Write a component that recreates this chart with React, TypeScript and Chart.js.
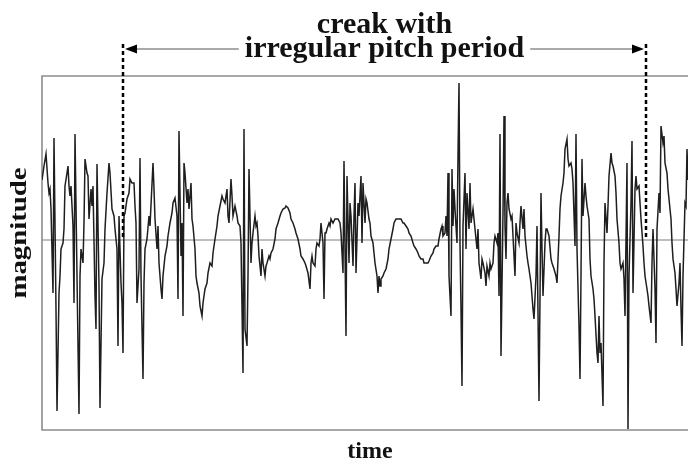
import React, { useEffect, useRef } from "react";
import { Chart, registerables } from "chart.js";

Chart.register(...registerables);

const time = [
  0, 2, 4, 6, 7, 8, 9, 11, 12, 14, 15, 17, 18, 19, 21, 22, 23, 25, 26, 27, 28, 29, 31, 32, 33, 35, 37, 38, 39, 41,
  42, 43, 45, 46, 47, 49, 50, 51, 53, 54, 55, 57, 58, 60, 62, 63, 65, 67, 68, 70, 72, 73, 75, 76, 77, 79, 80, 81, 82, 83,
  85, 87, 88, 90, 92, 93, 94, 95, 97, 98, 99, 101, 102, 103, 105, 107, 108, 111, 112, 113, 115, 116, 117, 119, 120, 121, 123, 125, 126, 128,
  130, 131, 133, 135, 136, 137, 139, 140, 141, 142, 143, 145, 146, 147, 149, 150, 151, 153, 154, 155, 157, 158, 160, 161, 163, 165, 166, 168, 170, 171,
  173, 175, 176, 178, 180, 181, 183, 185, 186, 187, 189, 190, 191, 193, 195, 196, 198, 199, 201, 202, 203, 205, 206, 207, 209, 210, 211, 213, 214, 215,
  216, 217, 219, 220, 221, 223, 224, 225, 227, 228, 229, 231, 233, 234, 236, 238, 239, 241, 243, 244, 246, 248, 249, 251, 253, 254, 256, 258, 259, 261,
  263, 264, 266, 268, 269, 270, 271, 273, 274, 275, 277, 278, 279, 281, 282, 283, 284, 285, 287, 288, 289, 291, 293, 294, 296, 298, 299, 301, 302, 303,
  304, 305, 307, 308, 309, 311, 312, 313, 314, 316, 317, 319, 320, 321, 323, 324, 325, 327, 328, 329, 331, 332, 333, 335, 336, 337, 338, 339, 341, 342,
  344, 346, 347, 349, 351, 352, 354, 356, 357, 359, 361, 362, 364, 366, 367, 369, 371, 372, 374, 376, 377, 379, 381, 382, 384, 386, 387, 389, 391, 392,
  394, 396, 397, 399, 400, 401, 403, 404, 405, 406, 407, 409, 410, 411, 412, 413, 415, 416, 417, 418, 419, 420, 421, 423, 424, 425, 427, 428, 429, 431,
  432, 433, 435, 436, 437, 439, 440, 441, 443, 444, 445, 447, 448, 449, 451, 452, 453, 455, 456, 457, 458, 459, 461, 462, 463, 464, 465, 466, 467, 469,
  470, 471, 473, 474, 475, 477, 478, 479, 481, 482, 483, 485, 486, 487, 489, 490, 491, 492, 494, 495, 497, 499, 500, 501, 503, 504, 505, 507, 509, 510,
  512, 514, 515, 517, 518, 519, 521, 522, 523, 525, 526, 527, 529, 530, 531, 533, 534, 535, 537, 538, 539, 540, 541, 543, 544, 545, 547, 548, 549, 551,
  552, 553, 555, 556, 557, 558, 559, 561, 562, 563, 565, 566, 567, 569, 570, 571, 573, 574, 575, 577, 578, 579, 581, 582, 583, 585, 586, 587, 589, 590,
  591, 593, 594, 595, 597, 598, 599, 601, 602, 603, 605, 606, 607, 609, 610, 611, 613, 614, 615, 617, 618, 619, 621, 622, 623, 625, 626, 627, 629, 630,
  631, 633, 634, 635, 637, 638, 639, 640, 641, 643, 644, 645, 646,
];

const magnitude = [
  60, 74, 86, 57, 47, 51, 31, -53, 102, -69, -171, -53, -36, -9, -3, 11, 54, 67, 74, 54, 44, 54, 14, -63, 106, -36, -174, -36, -9, -23,
  17, 81, 67, 64, 21, 51, 34, 54, -56, -89, 76, -46, -168, -39, -23, 11, 47, 77, 67, 31, 24, 11, -9, -106, 24, -43, -63, -113, 24, 27,
  41, 47, 61, 57, 57, 34, 17, -63, -29, 82, -36, -139, -43, -9, 1, 24, 14, 77, 51, 21, -9, 14, -23, -49, -59, -36, -16, -6, 4, 17,
  27, 37, 42, 24, -59, 109, -16, 17, -76, 77, 67, 37, 51, 31, 57, 21, 14, -9, -36, -43, -53, -66, -76, -63, -49, -43, -33, -23, -26, -13,
  1, 14, 24, 34, 44, 41, 37, 51, 24, 17, 61, 44, 24, 34, 24, 17, 14, -3, -133, 111, -89, -106, -36, 71, -23, -3, 7, 24, 14, 17,
  4, -16, -36, -9, -23, -36, -26, -23, -16, -19, -13, -9, 1, 11, 17, 24, 27, 31, 32, 34, 32, 27, 21, 17, 11, 7, 1, -9, -16, -19,
  -23, -26, -33, -49, -23, -16, -23, -26, -9, -3, -6, 1, 17, -3, -59, 7, 7, 11, 17, 14, 21, 17, 21, 21, 21, 17, 7, -33, 79, -9,
  -96, 64, -23, 37, 24, -26, 24, 57, -33, 37, 24, 64, -3, 57, 17, 41, 37, 21, 17, 4, -3, -13, -23, -36, -53, -36, -46, -39, -36, -33,
  -29, -19, -9, 1, 11, 17, 21, 21, 21, 21, 17, 17, 14, 11, 7, 4, -3, -6, -9, -13, -16, -19, -19, -23, -23, -23, -21, -16, -13, -9,
  -6, -6, 1, 11, 14, 4, 7, 24, 4, 67, -36, -76, 71, 14, 51, 31, -3, 84, 157, -3, -69, -146, 14, 67, -9, 47, 11, 57, 17, 31,
  31, 11, -9, 11, -23, -39, -19, -23, -33, -46, -26, -36, -23, -29, -23, -3, 4, -3, 7, -56, 106, -116, 27, 124, 14, -19, 37, 47, 31, 21,
  24, 4, -36, 17, 7, -3, 17, 34, 11, 31, 4, -16, -23, -29, -43, -56, -69, -79, -36, 14, -161, 47, -9, -56, -3, 11, 11, 4, -19, -23,
  -29, -36, -43, 4, 31, 44, 57, 67, 91, 101, 81, 74, 77, 71, 57, -6, 106, -9, -86, -139, -36, 81, 24, 57, 44, 34, 21, -19, -36, -49,
  -59, -76, -113, -123, -76, -113, -103, -166, -23, 37, 7, 34, 64, 87, 77, 74, 64, 47, 21, -3, -23, -29, -23, -39, -76, 77, -189, -36, 37, 99,
  -53, 51, 64, 51, 54, 37, 21, -6, -23, -36, -49, -56, -66, -83, -23, 11, -49, -103, 11, 47, 27, 114, 97, 104, 77, 67, 51, 41, 21, -3,
  -19, -33, -49, -66, -43, -23, -69, -106, -36, 37, 34, 91, 60,
];

const timeRange = [0, 646];
const magnitudeRange = [-190, 164];
const creakSpan = [81, 604];
const titleLines = ["creak with", "irregular pitch period"];
const xLabel = "time";
const yLabel = "magnitude";

const SERIF = '"Liberation Serif", "DejaVu Serif", serif';

const decorPlugin = {
  id: "decor",
  beforeDatasetsDraw(chart: any) {
    const { ctx, chartArea: a, scales } = chart;
    const y0 = scales.y.getPixelForValue(0);
    ctx.save();
    ctx.strokeStyle = "#7d7d7d";
    ctx.lineWidth = 1;
    ctx.beginPath();
    ctx.moveTo(a.left, y0);
    ctx.lineTo(a.right, y0);
    ctx.stroke();
    ctx.strokeStyle = "#8c8c8c";
    ctx.lineWidth = 1.6;
    ctx.beginPath();
    ctx.moveTo(a.right + 2, a.top);
    ctx.lineTo(a.left, a.top);
    ctx.lineTo(a.left, a.bottom);
    ctx.lineTo(a.right + 2, a.bottom);
    ctx.stroke();
    ctx.restore();
  },
  afterDraw(chart: any) {
    const { ctx, scales } = chart;
    const x1 = scales.x.getPixelForValue(creakSpan[0]);
    const x2 = scales.x.getPixelForValue(creakSpan[1]);
    const y0 = scales.y.getPixelForValue(0);
    const arrowY = 49;
    ctx.save();
    // dashed markers
    ctx.strokeStyle = "#000";
    ctx.lineWidth = 2.5;
    ctx.setLineDash([4, 3]);
    [x1, x2].forEach((x) => {
      ctx.beginPath();
      ctx.moveTo(x, arrowY - 5);
      ctx.lineTo(x, y0 - 2);
      ctx.stroke();
    });
    ctx.setLineDash([]);
    // title
    ctx.fillStyle = "#111";
    ctx.font = `bold 30px ${SERIF}`;
    ctx.textAlign = "center";
    ctx.textBaseline = "alphabetic";
    const cx = (x1 + x2) / 2;
    ctx.fillText(titleLines[0], cx, 33);
    ctx.fillText(titleLines[1], cx, 57);
    const w = ctx.measureText(titleLines[1]).width;
    // arrow lines
    ctx.strokeStyle = "#555";
    ctx.lineWidth = 1;
    ctx.beginPath();
    ctx.moveTo(x1 + 12, arrowY);
    ctx.lineTo(cx - w / 2 - 6, arrowY);
    ctx.moveTo(cx + w / 2 + 6, arrowY);
    ctx.lineTo(x2 - 12, arrowY);
    ctx.stroke();
    ctx.fillStyle = "#000";
    ctx.beginPath();
    ctx.moveTo(x1 + 2, arrowY);
    ctx.lineTo(x1 + 14, arrowY - 4.5);
    ctx.lineTo(x1 + 14, arrowY + 4.5);
    ctx.closePath();
    ctx.fill();
    ctx.beginPath();
    ctx.moveTo(x2 - 2, arrowY);
    ctx.lineTo(x2 - 14, arrowY - 4.5);
    ctx.lineTo(x2 - 14, arrowY + 4.5);
    ctx.closePath();
    ctx.fill();
    // axis labels
    ctx.fillStyle = "#111";
    ctx.font = `bold 24px ${SERIF}`;
    ctx.textAlign = "center";
    ctx.fillText(xLabel, 370, 458);
    ctx.translate(26, 233);
    ctx.rotate(-Math.PI / 2);
    ctx.scale(1.2, 1);
    ctx.textBaseline = "alphabetic";
    ctx.fillText(yLabel, 0, 0);
    ctx.restore();
  },
};

export default function App() {
  const ref = useRef<HTMLCanvasElement | null>(null);
  useEffect(() => {
    if (!ref.current) return;
    const chart = new Chart(ref.current, {
      type: "line",
      data: {
        datasets: [
          {
            label: yLabel,
            data: time.map((t, i) => ({ x: t, y: magnitude[i] })),
            borderColor: "#1e1e1e",
            borderWidth: 1.5,
            pointRadius: 0,
            tension: 0,
            fill: false,
          },
        ],
      },
      options: {
        animation: false,
        responsive: false,
        maintainAspectRatio: false,
        devicePixelRatio: 1,
        layout: { padding: { left: 42, top: 76, right: 0, bottom: 33 } },
        plugins: { legend: { display: false }, tooltip: { enabled: false } },
        scales: {
          x: { type: "linear", min: timeRange[0], max: timeRange[1], display: false },
          y: { type: "linear", min: magnitudeRange[0], max: magnitudeRange[1], display: false },
        },
      },
      plugins: [decorPlugin],
    });
    return () => chart.destroy();
  }, []);
  return (
    <div style={{ position: "fixed", left: 0, top: 0, width: 688, height: 463, background: "#fff" }}>
      <canvas ref={ref} width={688} height={463} style={{ display: "block" }} />
    </div>
  );
}
